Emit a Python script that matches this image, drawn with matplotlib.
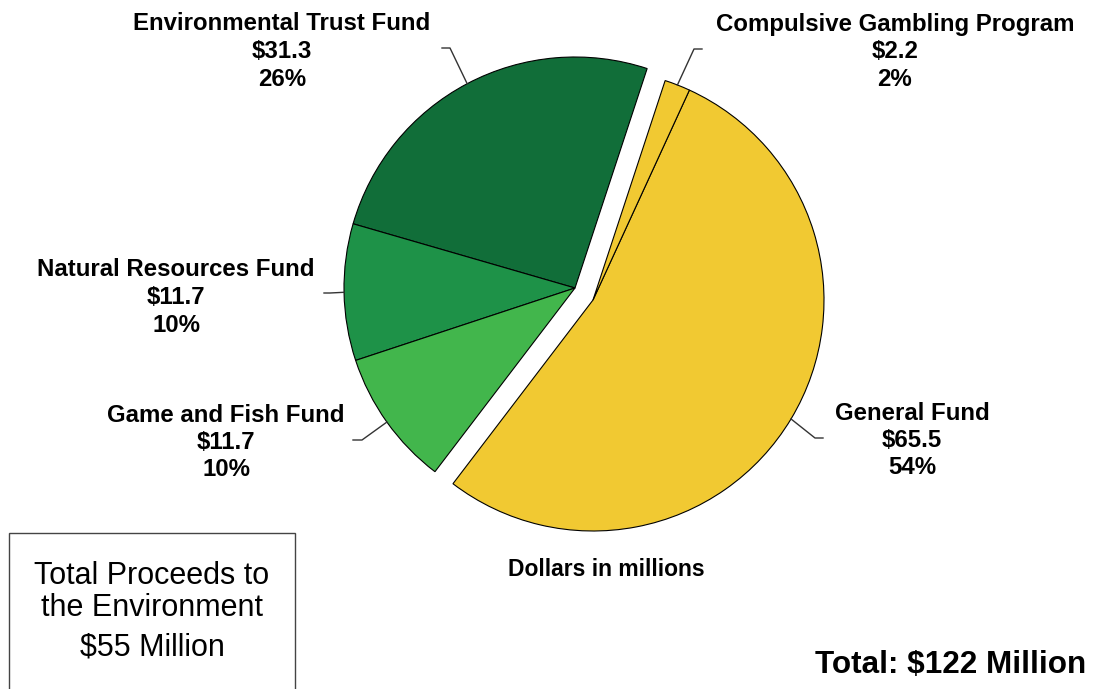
import numpy as np
import matplotlib
matplotlib.use('Agg')
import matplotlib.pyplot as plt
from matplotlib.patches import Rectangle

plt.rcParams['font.family'] = ['Liberation Sans', 'DejaVu Sans']

# Lottery proceeds by fund, dollars in millions
funds = ['Environmental Trust Fund', 'Natural Resources Fund',
         'Game and Fish Fund', 'General Fund', 'Compulsive Gambling Program']
amounts = [31.3, 11.7, 11.7, 65.5, 2.2]
environment_funds = ['Environmental Trust Fund', 'Natural Resources Fund',
                     'Game and Fish Fund']

COLORS = ['#116E39', '#1E9248', '#42B64C', '#F1C932', '#F1C932']

W, H = 1093, 689
CENTER = (575, H - 288)
RADIUS = 231
SHIFT = (18, -12)          # offset of the yellow (non-environment) wedges

# label layout: (text centre x, first line y from top, leader elbow, leader end)
LABEL_POS = {
    'Environmental Trust Fund':    (282, 24, (450, 48), (442, 48)),
    'Natural Resources Fund':      (176, 270, (330, 293), (324, 293)),
    'Game and Fish Fund':          (226, 415, (362, 440), (353, 440)),
    'General Fund':                (912, 413, (815, 438), (823, 438)),
    'Compulsive Gambling Program': (895, 24, (694, 49), (702, 49)),
}
LINE_STEP = 27.5

fig = plt.figure(figsize=(W / 100, H / 100), dpi=100)
fig.patch.set_facecolor('white')
ax = fig.add_axes([0, 0, 1, 1])

total = sum(amounts)
wedges, _ = ax.pie(amounts, colors=COLORS, startangle=71.8, counterclock=True,
                   center=CENTER, radius=RADIUS,
                   wedgeprops=dict(edgecolor='black', linewidth=0.8))

for name, w in zip(funds, wedges):
    if name not in environment_funds:
        w.set_center((CENTER[0] + SHIFT[0], CENTER[1] + SHIFT[1]))

ax.set_xlim(0, W)
ax.set_ylim(0, H)
ax.set_aspect('equal')
ax.axis('off')

# labels with leader lines from the wedge rim
for name, amt, w in zip(funds, amounts, wedges):
    tx, ty, elbow, end = LABEL_POS[name]
    mid = np.deg2rad((w.theta1 + w.theta2) / 2)
    cx, cy = w.center
    rim = (cx + w.r * np.cos(mid), cy + w.r * np.sin(mid))
    ax.plot([rim[0], elbow[0], end[0]], [rim[1], H - elbow[1], H - end[1]],
            color='#333333', linewidth=1.0, zorder=1)
    lines = [name, f'${amt:.1f}', f'{amt / total * 100:.0f}%']
    for i, s in enumerate(lines):
        ax.text(tx, H - (ty + i * LINE_STEP), s, ha='center', va='center',
                fontsize=17.3, fontweight='bold', color='black')

ax.text(606, H - 570, 'Dollars in millions', ha='center', va='center',
        fontsize=16.5, fontweight='bold')

ax.text(951, H - 665, f'Total: ${total:.0f} Million', ha='center', va='center',
        fontsize=22.7, fontweight='bold')

# environment subtotal box
env_total = sum(a for f, a in zip(funds, amounts) if f in environment_funds)
ax.add_patch(Rectangle((9, -10), 286, H - 533 + 10, facecolor='white',
                       edgecolor='#444444', linewidth=1.0))
for s, y in [('Total Proceeds to', 576), ('the Environment', 608),
             (f'${env_total:.0f} Million', 648)]:
    ax.text(152, H - y, s, ha='center', va='center', fontsize=22)

fig.savefig('out.png', dpi=100, facecolor='white')
